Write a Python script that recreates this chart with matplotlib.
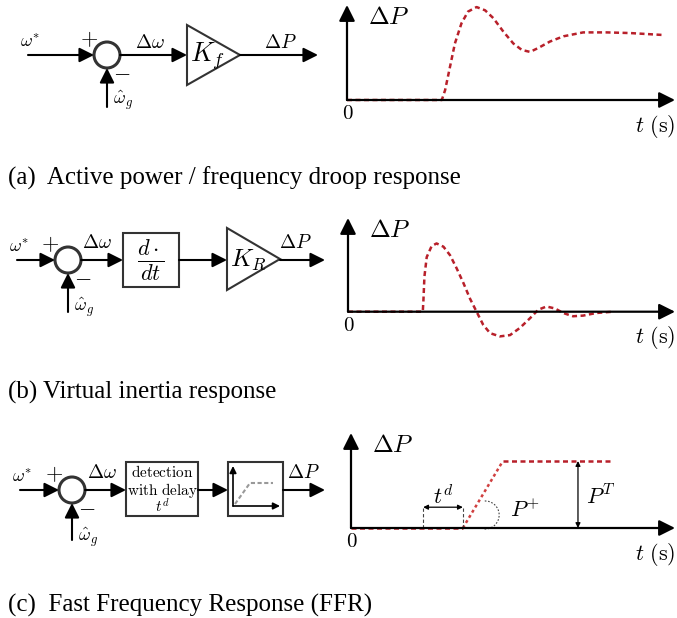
import matplotlib
matplotlib.use('Agg')
import matplotlib.pyplot as plt
from matplotlib.patches import Circle, Polygon, Rectangle, Arc

plt.rcParams['mathtext.fontset'] = 'cm'

# response curves (t in s-units, dP in arbitrary units)
t_droop = [0, 2.89, 2.99, 3.14, 3.29, 3.49, 3.69, 3.95, 4.21, 4.46, 4.77, 5.07,
           5.33, 5.58, 5.83, 6.19, 6.6, 7.2, 7.92, 8.63, 9.64]
p_droop = [0, 0, 0.15, 0.51, 0.87, 1.18, 1.36, 1.43, 1.38, 1.26, 1.05, 0.87,
           0.77, 0.74, 0.80, 0.90, 0.98, 1.04, 1.04, 1.03, 1.0]

t_inertia = [0, 2.28, 2.30, 2.33, 2.40, 2.55, 2.70, 2.91, 3.11, 3.31, 3.52, 3.72,
             3.92, 4.12, 4.33, 4.63, 4.94, 5.24, 5.55, 5.80, 6.05, 6.31, 6.56,
             6.86, 7.17, 7.57, 8.08]
p_inertia = [0, 0, 0.18, 0.54, 0.84, 1.01, 1.05, 1.00, 0.87, 0.67, 0.44, 0.20,
             0, -0.20, -0.33, -0.38, -0.36, -0.25, -0.10, 0.03, 0.08, 0.05, -0.02,
             -0.07, -0.06, -0.02, 0]

t_ffr = [0, 3.41, 4.63, 7.99]
p_ffr = [0, 0, 1.03, 1.03]
td_start = 2.2

captions = ['(a)  Active power / frequency droop response',
            '(b) Virtual inertia response',
            '(c)  Fast Frequency Response (FFR)']

W, H = 677, 618
PXT, PXP = 32.8, 65.0
RED = '#b8202a'
EDGE = '#333333'

fig = plt.figure(figsize=(W / 100, H / 100), dpi=100)
ax = fig.add_axes([0, 0, 1, 1])
ax.set_xlim(0, W)
ax.set_ylim(H, 0)
ax.axis('off')


def arrow(a, p0, p1, lw=1.5, ms=22, style='-|>', color='k'):
    a.annotate('', xy=p1, xytext=p0, annotation_clip=False,
               arrowprops=dict(arrowstyle=style, color=color, lw=lw,
                               mutation_scale=ms, shrinkA=0, shrinkB=0))


def resp_axes(ox, oy, xt, yt, yb):
    r = fig.add_axes([ox / W, 1 - yb / H, (xt - ox) / W, (yb - yt) / H])
    r.set_xlim(0, (xt - ox) / PXT)
    r.set_ylim(-(yb - oy) / PXP, (oy - yt) / PXP)
    r.axis('off')
    r.patch.set_alpha(0)
    xm, ym = r.get_xlim()[1], r.get_ylim()[1]
    arrow(r, (0, 0), (xm, 0), lw=1.6, ms=24)
    arrow(r, (0, 0), (0, ym), lw=1.6, ms=24)
    ax.text(ox + 21, yt + 12, r'$\Delta P$', size=18, va='center', ha='left')
    ax.text(ox + 1, oy + 13, r'$0$', size=15, va='center', ha='center')
    ax.text(xt, oy + 26, r'$t\ (\mathrm{s})$', size=16, va='center', ha='right')
    return r


def summing(cx, cy, xin, ybot, lbl_y):
    ax.add_patch(Circle((cx, cy), 13, fc='white', ec=EDGE, lw=2.2, zorder=3))
    arrow(ax, (xin, cy), (cx - 13, cy))
    arrow(ax, (cx, ybot), (cx, cy + 13))
    ax.text(xin + 2, cy - 12, r'$\omega^{*}$', size=13, ha='center', va='center')
    ax.text(cx - 18, cy - 16, r'$+$', size=16, ha='center', va='center')
    ax.text(cx + 15, cy + 17, r'$-$', size=16, ha='center', va='center')
    ax.text(cx + 16, lbl_y, r'$\hat{\omega}_g$', size=13, ha='center', va='center')


def gain(x0, x1, y0, y1, label, size):
    cy = (y0 + y1) / 2
    ax.add_patch(Polygon([(x0, y0), (x0, y1), (x1, cy)], closed=True,
                         fc='white', ec=EDGE, lw=1.5))
    ax.text(x0 + 3, cy + 1, label, size=size, ha='left', va='center')


# ---- (a) droop ----
summing(107, 55, 28, 107, 100)
arrow(ax, (120, 55), (187, 55))
ax.text(150, 42, r'$\Delta\omega$', size=14, ha='center', va='center')
gain(187, 240, 25, 85, r'$K_f$', 19)
arrow(ax, (240, 55), (318, 55))
ax.text(280, 42, r'$\Delta P$', size=14, ha='center', va='center')

ra = resp_axes(347, 100, 675, 5, 110)
ra.plot(t_droop, p_droop, color=RED, lw=1.8, ls=(0, (2, 1.4)))

# ---- (b) inertia ----
summing(68, 260, 17, 312, 307)
arrow(ax, (81, 260), (123, 260))
ax.text(97, 243, r'$\Delta\omega$', size=14, ha='center', va='center')
ax.add_patch(Rectangle((123, 233), 56, 54, fc='white', ec=EDGE, lw=1.5))
ax.text(151, 260, r'$\frac{d\cdot}{dt}$', size=23, ha='center', va='center')
arrow(ax, (179, 260), (227, 260))
gain(227, 280, 228, 290, r'$K_R$', 18)
arrow(ax, (280, 260), (325, 260))
ax.text(295, 243, r'$\Delta P$', size=14, ha='center', va='center')

rb = resp_axes(348, 311.7, 675, 218, 340)
rb.plot(t_inertia, p_inertia, color=RED, lw=1.8, ls=(0, (2, 1.4)))

# ---- (c) FFR ----
summing(72, 490, 20, 540, 537)
arrow(ax, (85, 490), (126, 490))
ax.text(102, 472, r'$\Delta\omega$', size=14, ha='center', va='center')
ax.add_patch(Rectangle((126, 462), 72, 54, fc='white', ec=EDGE, lw=1.5))
ax.text(162, 472, r'$\mathrm{detection}$', size=11, ha='center', va='center')
ax.text(162, 490, r'$\mathrm{with\ delay}$', size=11, ha='center', va='center')
ax.text(162, 507, r'$t^d$', size=11, ha='center', va='center')
arrow(ax, (198, 490), (228, 490))
ax.add_patch(Rectangle((228, 462), 55, 54, fc='white', ec=EDGE, lw=1.5))
arrow(ax, (233, 506), (233, 466), lw=1.2, ms=10)
arrow(ax, (233, 506), (280, 506), lw=1.2, ms=10)
ax.plot([235, 250, 273], [504, 483, 483], color='#999999', lw=1.5, ls=(0, (2, 1.2)))
arrow(ax, (283, 490), (325, 490))
ax.text(303, 472, r'$\Delta P$', size=14, ha='center', va='center')

rc = resp_axes(351, 528, 675, 433, 545)
rc.plot(t_ffr[:2], p_ffr[:2], color=RED, lw=1.8, ls=(0, (2, 1.4)))
rc.plot(t_ffr[1:3], p_ffr[1:3], color='#d04040', lw=1.8, ls=(0, (1.2, 1.2)))
rc.plot(t_ffr[2:], p_ffr[2:], color=RED, lw=1.8, ls=(0, (2, 1.4)))
# t^d bracket
td_h = 0.32
for tt in (td_start, t_ffr[1]):
    rc.plot([tt, tt], [0, td_h], color='#444444', lw=0.8, ls=(0, (3, 2)))
arrow(rc, (td_start, td_h), (t_ffr[1], td_h), lw=0.9, ms=7, style='<|-|>')
rc.text((td_start + t_ffr[1]) / 2, td_h + 0.17, r'$t^d$', size=16, ha='center', va='center')
# ramp angle
rc.add_patch(Arc((t_ffr[1] + 0.68, 0.2), 28 / PXT, 28 / PXP, theta1=-95, theta2=100,
                 color='#444444', lw=0.8, ls=(0, (1.5, 1.5))))
rc.text(t_ffr[1] + 1.45, 0.28, r'$P^{+}$', size=16, ha='left', va='center')
# P^T
pt_t = 6.92
arrow(rc, (pt_t, 0), (pt_t, p_ffr[-1]), lw=0.9, ms=7, style='<|-|>')
rc.text(pt_t + 0.25, 0.48, r'$P^{T}$', size=16, ha='left', va='center')

# captions
for cy, txt in zip([178, 392, 605], captions):
    ax.text(8, cy, txt, family='Liberation Serif', size=18, ha='left', va='center')

fig.savefig('out.png', dpi=100)
